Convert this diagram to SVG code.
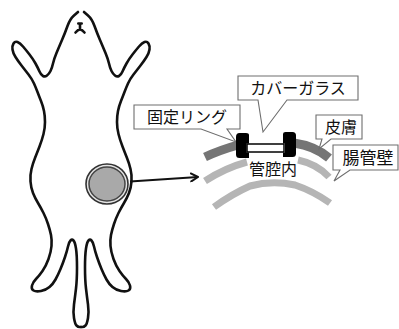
<svg xmlns="http://www.w3.org/2000/svg" xmlns:xlink="http://www.w3.org/1999/xlink" width="399" height="329" viewBox="0 0 399 329">
  <style>
    .outline { fill: none; stroke: #111; stroke-width: 2.6; stroke-linejoin: round; stroke-linecap: round; }
    .callout { fill: #fff; stroke: #6e6e6e; stroke-width: 1.1; stroke-linejoin: miter; }
    .label { font-family: "Noto Sans CJK JP", "Noto Sans", sans-serif; font-size: 16px; fill: #111; text-anchor: middle; }
    .skin { fill: none; stroke: #757575; stroke-width: 9; }
    .wall { fill: none; stroke: #b5b5b5; stroke-width: 7; }
    .ring { fill: #000; }
    .arrow { fill: none; stroke: #111; stroke-width: 2; }
  </style>
  <defs>
    <marker id="head" markerWidth="10" markerHeight="10" refX="8" refY="5" orient="auto" markerUnits="userSpaceOnUse">
      <path d="M1,1 L8,5 L1,9" fill="none" stroke="#111" stroke-width="2" stroke-linecap="round" stroke-linejoin="round"/>
    </marker>
    <!-- left half of the mouse silhouette, mirrored for the right half -->
    <path id="mouse-half" d="M78,12 L74,15.5 Q70,19 67.5,26 Q65,33 62,40 Q59,47 56.5,53 Q54,59 53,63.5 Q52,68 50.5,71 Q49,74 47,75.5 Q45,77 43,76 Q41,75 39.5,71.5 Q38,68 35.5,63.5 Q33,59 29.5,54.5 Q26,50 23,46.5 Q20,43 17.5,42 Q15,41 13.5,43.5 Q12,46 12.5,49.5 Q13,53 15.5,57 Q18,61 21.5,65.5 Q25,70 28.5,74.5 Q32,79 34,83.5 Q36,88 37.5,92 Q39,96 41,101 Q43,106 44,111 Q45,116 45,122 Q45,128 43.5,134 Q42,140 39.5,146.5 Q37,153 35,158 Q33,163 31.5,169 Q30,175 30.5,181.5 Q31,188 33,193 Q35,198 38,203 Q41,208 43.5,213 Q46,218 48,224 Q50,230 51,235 Q52,240 51.5,246 Q51,252 48.5,259 Q46,266 42.5,271 Q39,276 36,279 Q33,282 32,285.5 Q31,289 33.5,290.5 Q36,292 41,291 Q46,290 49.5,287 Q53,284 55.5,279.5 Q58,275 60.5,269 Q63,263 65,257 Q67,251 68,246.5 Q69,242 70.5,240.5 Q72,239 73.5,240.5 Q75,242 76,248.5 Q77,255 77,267.5 Q77,280 76,288.5 Q75,297 74,304.5 Q73,312 74,318 Q75,324 76.5,325.5 Q78,327 79.5,327 L81,327"/>
  </defs>

  <!-- mouse body -->
  <g id="mouse">
    <use xlink:href="#mouse-half" class="outline"/>
    <use xlink:href="#mouse-half" class="outline" transform="matrix(-1 0 0 1 162 0)"/>
    <!-- mouth mark -->
    <path class="outline" d="M78.3,23.5 L81.7,23.5 M80,23.5 L80,29.5 M75.5,32.5 Q78,29.5 80,29.5 Q82,29.5 84.5,32.5" stroke-width="2.8"/>
  </g>

  <!-- window implanted in the abdomen -->
  <g id="window">
    <ellipse cx="107" cy="184" rx="21" ry="20" fill="#e4e4e4" stroke="#333" stroke-width="1.6"/>
    <ellipse cx="107" cy="184" rx="18" ry="17" fill="#a9a9a9" stroke="#444" stroke-width="1.5"/>
  </g>

  <!-- connectors -->
  <g id="connectors">
    <line class="arrow" x1="130" y1="181.5" x2="198" y2="177" marker-end="url(#head)"/>
  </g>

  <!-- tissue cross-section -->
  <g id="tissue">
    <path class="wall" d="M214,207 Q232,194 250,186 Q272,180 295,185 Q313,191 330,203"/>
    <path class="wall" d="M205,181 Q225,168 247,162"/>
    <path class="wall" d="M298,160 Q317,164 329,177"/>
    <path class="skin" d="M205,157 Q220,150 238,145"/>
    <path class="skin" d="M294,143 Q315,146 329,158"/>
  </g>

  <!-- callout labels -->
  <g id="label-ring">
    <path class="callout" d="M134,105 H240 V129 H227 L236,142 L201,129 H134 Z"/>
    <text class="label" x="187" y="123">固定リング</text>
  </g>
  <g id="label-glass">
    <path class="callout" d="M238,76 H358 V100 H287 L263,132 L258,100 H238 Z"/>
    <text class="label" x="298" y="94">カバーガラス</text>
  </g>
  <g id="label-skin">
    <path class="callout" d="M316,115 H362 V139 H331 L319,149 L322,139 H316 Z"/>
    <text class="label" x="341" y="133">皮膚</text>
  </g>
  <g id="label-wall">
    <path class="callout" d="M333,145 H398 V170 H350 L334,181 L340,170 H333 Z"/>
    <text class="label" x="368" y="164" style="font-size:17px">腸管壁</text>
  </g>
  <g id="label-lumen">
    <text class="label" x="273" y="175">管腔内</text>
  </g>

  <!-- fixing ring with cover glass -->
  <g id="fixing-ring">
    <rect x="247" y="144" width="37" height="8" fill="#fff" stroke="#000" stroke-width="1.5"/>
    <path class="ring" d="M244,133 L239.5,133 Q236,133 236,137 L236,154.5 Q236,158 239.5,158 L249,158 L249,152.5 L246.5,152.5 L246.5,143.5 L249,143.5 L249,135 Q249,133 246,133 Z"/>
    <path class="ring" d="M286,132 L292.5,132 Q296,132 296,135.5 L296,153.5 Q296,157 292.5,157 L283,157 L283,152.5 L285,152.5 L285,143.5 L283,143.5 L283,134 Q283,132 285.5,132 Z"/>
  </g>
</svg>
